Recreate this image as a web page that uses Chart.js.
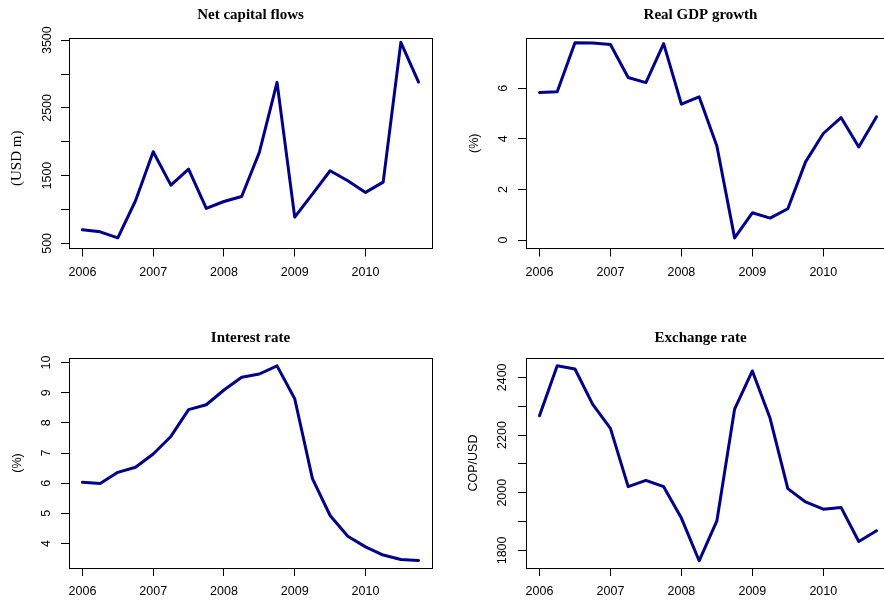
<!DOCTYPE html>
<html>
<head>
<meta charset="utf-8">
<title>Macro indicators 2006-2010</title>
<script src="https://cdn.jsdelivr.net/npm/chart.js@4.4.1/dist/chart.umd.min.js"></script>
<style>
  html, body { margin: 0; padding: 0; background: #fff; overflow: hidden; }
  #wrap { position: relative; width: 884px; height: 603px; overflow: hidden; }
  canvas { position: absolute; }
</style>
</head>
<body>
<div id="wrap">
  <canvas id="flows" width="442" height="300" style="left:0;top:0"></canvas>
  <canvas id="gdp" width="458" height="300" style="left:442px;top:0"></canvas>
  <canvas id="rate" width="442" height="303" style="left:0;top:300px"></canvas>
  <canvas id="fx" width="458" height="303" style="left:442px;top:300px"></canvas>
</div>
<script>
// quarterly observations, 2006Q1 .. 2010Q4
const quarters = [2006, 2006.25, 2006.5, 2006.75, 2007, 2007.25, 2007.5, 2007.75,
  2008, 2008.25, 2008.5, 2008.75, 2009, 2009.25, 2009.5, 2009.75,
  2010, 2010.25, 2010.5, 2010.75];

const capitalFlows = [700, 670, 582, 1129, 1853, 1360, 1597, 1015, 1118, 1192,
  1843, 2877, 887, 1227, 1572, 1424, 1252, 1404, 3468, 2882];
const gdpGrowth = [5.83, 5.86, 7.79, 7.78, 7.72, 6.42, 6.22, 7.76, 5.37, 5.66,
  3.72, 0.09, 1.08, 0.87, 1.24, 3.09, 4.21, 4.84, 3.68, 4.87];
const interestRate = [6.03, 5.99, 6.36, 6.53, 6.97, 7.55, 8.44, 8.60, 9.09, 9.51,
  9.62, 9.89, 8.80, 6.15, 4.93, 4.24, 3.89, 3.62, 3.47, 3.44];
const exchangeRate = [2267, 2440, 2429, 2306, 2223, 2021, 2043, 2021, 1912, 1764,
  1902, 2290, 2422, 2258, 2014, 1968, 1943, 1949, 1831, 1868];

// axis ticks and the labels printed beside them
const yearTicks = [2006, 2007, 2008, 2009, 2010];
const flowTicks = [500, 1000, 1500, 2000, 2500, 3000, 3500];
const flowLabels = ['500', '', '1500', '', '2500', '', '3500'];
const gdpTicks = [0, 2, 4, 6];
const gdpLabels = ['0', '2', '4', '6'];
const rateTicks = [4, 5, 6, 7, 8, 9, 10];
const rateLabels = ['4', '5', '6', '7', '8', '9', '10'];
const fxTicks = [1800, 1900, 2000, 2100, 2200, 2300, 2400];
const fxLabels = ['1800', '', '2000', '', '2200', '', '2400'];

const lineColor = '#00008B';
const sans = { family: 'Liberation Sans', size: 12.5 };
const serifBold = { family: 'Liberation Serif', size: 15, weight: 'bold' };

// box around the plotting region
const frame = {
  id: 'frame',
  afterDatasetsDraw(chart) {
    const a = chart.chartArea;
    const ctx = chart.ctx;
    const al = p => Math.round(p - 0.5) + 0.5;
    ctx.save();
    ctx.strokeStyle = '#000';
    ctx.lineWidth = 1;
    ctx.strokeRect(al(a.left), al(a.top), al(a.right) - al(a.left), al(a.bottom) - al(a.top));
    ctx.restore();
  }
};

function makePanel(id, p) {
  new Chart(document.getElementById(id), {
    type: 'line',
    data: {
      datasets: [{
        data: quarters.map((q, i) => ({ x: q, y: p.values[i] })),
        borderColor: lineColor,
        borderWidth: 3,
        borderJoinStyle: 'round',
        borderCapStyle: 'round',
        pointRadius: 0,
        tension: 0,
        fill: false
      }]
    },
    options: {
      responsive: false,
      animation: false,
      devicePixelRatio: 1,
      events: [],
      layout: { padding: { left: 0, right: 10, top: 0, bottom: 0 } },
      plugins: {
        legend: { display: false },
        tooltip: { enabled: false },
        title: {
          display: true,
          text: p.title,
          fullSize: false,
          color: '#000',
          font: serifBold,
          padding: { top: p.titleTop, bottom: p.titleBottom }
        }
      },
      scales: {
        x: {
          type: 'linear',
          bounds: 'data',
          min: 2005.81,
          max: 2010.94,
          afterBuildTicks: s => { s.ticks = yearTicks.map(v => ({ value: v })); },
          afterFit: s => { s.height = p.xAxisH; },
          border: { display: false },
          grid: { drawOnChartArea: false, drawTicks: true, tickLength: 8, color: '#000', lineWidth: 1 },
          ticks: {
            autoSkip: false, maxRotation: 0, padding: 8.5, color: '#000', font: sans,
            callback: v => String(v)
          }
        },
        y: {
          type: 'linear',
          bounds: 'data',
          min: p.min,
          max: p.max,
          afterBuildTicks: s => { s.ticks = p.ticks.map(v => ({ value: v })); },
          afterFit: s => { s.width = p.yAxisW; },
          border: { display: false },
          grid: { drawOnChartArea: false, drawTicks: true, tickLength: 8, color: '#000', lineWidth: 1 },
          ticks: {
            autoSkip: false, minRotation: 90, maxRotation: 90, crossAlign: 'center',
            padding: p.tickPad, color: '#000', font: sans,
            callback: (v, i) => p.labels[i]
          },
          title: {
            display: true,
            text: p.yTitle,
            color: '#000',
            font: p.yTitleFont,
            padding: { top: p.yTitlePad, bottom: 0 }
          }
        }
      }
    },
    plugins: [frame]
  });
}

makePanel('flows', {
  title: 'Net capital flows', values: capitalFlows,
  min: 424, max: 3532, ticks: flowTicks, labels: flowLabels,
  yTitle: '(USD m)' + '\u00a0'.repeat(8), yTitleFont: { family: 'Liberation Serif', size: 15 }, yTitlePad: 7.7,
  yAxisW: 69, xAxisH: 51.5, tickPad: 0, titleTop: 6, titleBottom: 14
});

makePanel('gdp', {
  title: 'Real GDP growth' + '\u00a0'.repeat(4), values: gdpGrowth,
  min: -0.33, max: 7.98, ticks: gdpTicks, labels: gdpLabels,
  yTitle: '(%)', yTitleFont: sans, yTitlePad: 24.8,
  yAxisW: 84, xAxisH: 51.5, tickPad: 11.2, titleTop: 6, titleBottom: 14
});

makePanel('rate', {
  title: 'Interest rate', values: interestRate,
  min: 3.19, max: 10.15, ticks: rateTicks, labels: rateLabels,
  yTitle: '(%)', yTitleFont: sans, yTitlePad: 9.8,
  yAxisW: 69, xAxisH: 35, tickPad: 7.4, titleTop: 29, titleBottom: 11
});

makePanel('fx', {
  title: 'Exchange rate' + '\u00a0'.repeat(4), values: exchangeRate,
  min: 1739, max: 2467, ticks: fxTicks, labels: fxLabels,
  yTitle: 'COP/USD', yTitleFont: sans, yTitlePad: 24.2,
  yAxisW: 84, xAxisH: 35, tickPad: 1.1, titleTop: 29, titleBottom: 11
});
</script>
</body>
</html>
